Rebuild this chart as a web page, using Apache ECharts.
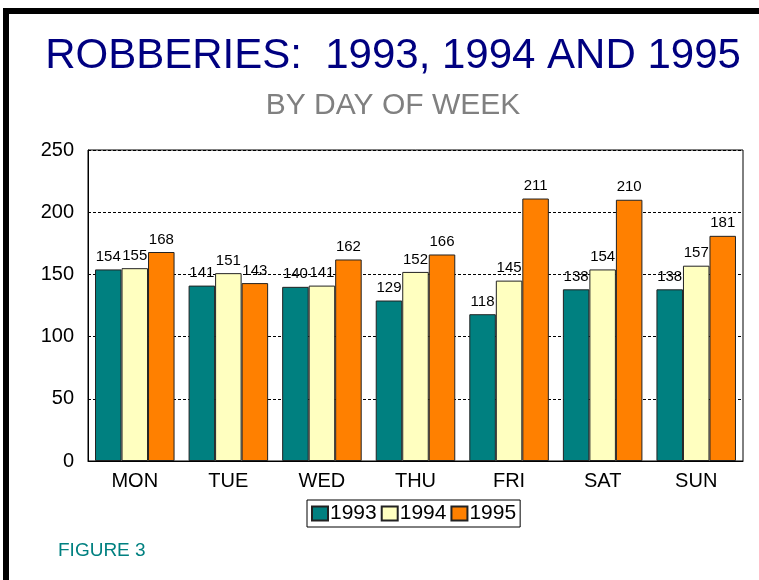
<!DOCTYPE html>
<html>
<head>
<meta charset="utf-8">
<script src="https://cdn.jsdelivr.net/npm/echarts@6/dist/echarts.min.js"></script>
<style>
  html, body { margin: 0; padding: 0; background: #fff; }
  #chart { width: 759px; height: 580px; }
</style>
</head>
<body>
<div id="chart"></div>
<script>
    // data
    var days = ['MON', 'TUE', 'WED', 'THU', 'FRI', 'SAT', 'SUN'];
    var y1993 = [154, 141, 140, 129, 118, 138, 138];
    var y1994 = [155, 151, 141, 152, 145, 154, 157];
    var y1995 = [168, 143, 162, 166, 211, 210, 181];
    var yTicks = [0, 50, 100, 150, 200, 250];

    var font = 'Liberation Sans, Arial, sans-serif';
    var myChart = echarts.init(document.getElementById('chart'));

    function barSeries(name, data, color) {
        return {
            name: name,
            type: 'bar',
            data: data,
            barGap: '0%',
            barCategoryGap: '15%',
            itemStyle: { color: color, borderColor: '#222', borderWidth: 1 },
            label: {
                show: true, position: 'top', distance: 5,
                color: '#000', fontFamily: font, fontSize: 15
            }
        };
    }

    var option = {
        backgroundColor: '#fff',
        animation: false,
        title: [{
            text: 'ROBBERIES:  1993, 1994 AND 1995',
            left: 388, top: 30, textAlign: 'center',
            textStyle: { color: '#000080', fontFamily: font, fontSize: 42, fontWeight: 'normal' }
        }, {
            text: 'BY DAY OF WEEK',
            left: 388, top: 86, textAlign: 'center',
            textStyle: { color: '#808080', fontFamily: font, fontSize: 30, fontWeight: 'normal' }
        }, {
            text: 'FIGURE 3',
            left: 53, top: 536,
            textStyle: { color: '#008080', fontFamily: font, fontSize: 19, fontWeight: 'normal' }
        }],
        graphic: [
            { type: 'rect', shape: { x: 3, y: 8, width: 756, height: 6 }, style: { fill: '#000' } },
            { type: 'rect', shape: { x: 3, y: 8, width: 6, height: 572 }, style: { fill: '#000' } }
        ],
        legend: {
            data: ['1993', '1994', '1995'],
            left: 307, top: 500,
            padding: [3, 4],
            itemGap: 4,
            itemWidth: 16, itemHeight: 14,
            icon: 'rect',
            borderColor: '#000', borderWidth: 1,
            textStyle: { color: '#000', fontFamily: font, fontSize: 21, padding: [0, 0, 0, -3] }
        },
        grid: { left: 88, right: 16, top: 150, bottom: 119, show: true, borderColor: '#000', borderWidth: 1 },
        xAxis: {
            type: 'category',
            data: days,
            axisLine: { lineStyle: { color: '#000' } },
            axisTick: { show: false },
            axisLabel: { color: '#000', fontFamily: font, fontSize: 20, margin: 10 }
        },
        yAxis: {
            type: 'value',
            min: yTicks[0], max: yTicks[yTicks.length - 1], interval: 50,
            axisLine: { show: true, lineStyle: { color: '#000' } },
            axisTick: { show: false },
            axisLabel: { color: '#000', fontFamily: font, fontSize: 20, margin: 14 },
            splitLine: { lineStyle: { color: '#000', type: [3, 2], width: 1 } }
        },
        series: [
            barSeries('1993', y1993, '#008080'),
            barSeries('1994', y1994, '#FFFFC0'),
            barSeries('1995', y1995, '#FF8000')
        ]
    };
    myChart.setOption(option);
</script>
</body>
</html>
